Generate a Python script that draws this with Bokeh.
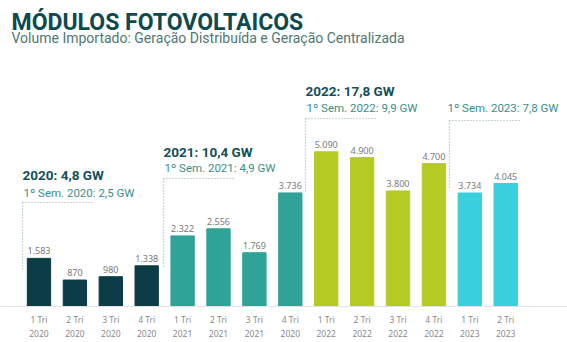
from bokeh.plotting import figure
from bokeh.models import ColumnDataSource, Label, Arrow, Range1d, FixedTicker
from bokeh.core.properties import value
from bokeh.embed import file_html
from bokeh.resources import INLINE

quarters = ["1 Tri", "2 Tri", "3 Tri", "4 Tri", "1 Tri", "2 Tri", "3 Tri", "4 Tri",
            "1 Tri", "2 Tri", "3 Tri", "4 Tri", "1 Tri", "2 Tri"]
years = ["2020", "2020", "2020", "2020", "2021", "2021", "2021", "2020",
         "2022", "2022", "2022", "2022", "2023", "2023"]
volumes = [1583, 870, 980, 1338, 2322, 2556, 1769, 3736, 5090, 4900, 3800, 4700, 3734, 4045]
groups = ["2020"] * 4 + ["2021"] * 4 + ["2022"] * 4 + ["2023"] * 2
palette = {"2020": "#0c3d47", "2021": "#2fa398", "2022": "#b5cb24", "2023": "#37d0dc"}

titles = ["MÓDULOS FOTOVOLTAICOS",
          "Volume Importado: Geração Distribuída e Geração Centralizada"]
year_totals = ["2020: 4,8 GW", "2021: 10,4 GW", "2022: 17,8 GW"]
semester_totals = ["1º Sem. 2020: 2,5 GW", "1º Sem. 2021: 4,9 GW",
                   "1º Sem. 2022: 9,9 GW", "1º Sem. 2023: 7,8 GW"]

idx = list(range(len(volumes)))
labels = [f"{v:,}".replace(",", ".") for v in volumes]
src = ColumnDataSource(dict(x=idx, vol=volumes, lab=labels,
                            color=[palette[g] for g in groups]))

FB = 306  # frame bottom in canvas px
p = figure(width=567, height=342, output_backend="svg", toolbar_location=None,
           x_range=Range1d(-1.072, 14.721), y_range=Range1d(0, 10066),
           y_axis_location=None, min_border_left=0, min_border_right=0,
           min_border_top=0, min_border_bottom=36)
p.outline_line_color = None
p.grid.visible = False
p.background_fill_color = "white"
p.border_fill_color = "white"

p.vbar(x="x", top="vol", width=0.65, color="color", source=src)
p.text(x="x", y="vol", text="lab", source=src, y_offset=-4,
       text_align="center", text_baseline="bottom", text_color="#7a7a7a",
       text_font=value("Noto Sans"), text_font_size="9px")

ax = p.xaxis[0]
ax.ticker = FixedTicker(ticks=idx)
ax.major_label_overrides = {i: f"{q}\n{y}" for i, q, y in zip(idx, quarters, years)}
ax.major_label_text_font = "Noto Sans"
ax.major_label_text_font_size = "8.5px"
ax.major_label_text_color = "#8a8a8a"
ax.major_label_text_line_height = 1.3
ax.major_label_standoff = 7
ax.major_tick_out = 0
ax.major_tick_in = 0
ax.minor_tick_out = 0
ax.minor_tick_in = 0
ax.axis_label_standoff = 0
ax.major_tick_line_color = None
ax.minor_tick_line_color = None
ax.axis_line_color = "#e2e2e2"


def lab(text, x, y, size, color, style="normal", font="Roboto"):
    p.add_layout(Label(x=x, y=FB - y, x_units="screen", y_units="screen",
                       text=text, text_font_size=size, text_color=color,
                       text_font_style=style, text_font=font,
                       text_baseline="middle", text_align="left"))


lab(titles[0], 11, 22, "23px", "#0d4a4f", "bold")
lab(titles[1], 11, 37, "14px", "#4f7775")

ann_color = "#14505a"
sem_color = "#3a8e8c"
lab(year_totals[0], 22, 174, "13.5px", ann_color, "bold")
lab(semester_totals[0], 23, 192, "11.5px", sem_color)
lab(year_totals[1], 163, 151, "13.5px", ann_color, "bold")
lab(semester_totals[1], 164, 167, "11.5px", sem_color)
lab(year_totals[2], 305, 90, "13.5px", ann_color, "bold")
lab(semester_totals[2], 306, 107, "11.5px", sem_color)
lab(semester_totals[3], 447, 107, "11.5px", sem_color)


def seg(x0, y0, x1, y1):
    p.add_layout(Arrow(end=None, x_start=x0, y_start=FB - y0,
                       x_end=x1, y_end=FB - y1,
                       start_units="screen", end_units="screen",
                       line_color="#8fb0b0", line_width=1.2, line_dash="1 2"))


for (hx0, hx1, hy, vy) in [(22, 94, 202, 270), (163, 235, 178, 266),
                           (305, 375, 118, 192), (449, 520, 120, 188)]:
    seg(hx0, hy, hx1, hy)
    seg(hx0, hy, hx0, vy)

open("out.html", "w").write(file_html(p, INLINE))
